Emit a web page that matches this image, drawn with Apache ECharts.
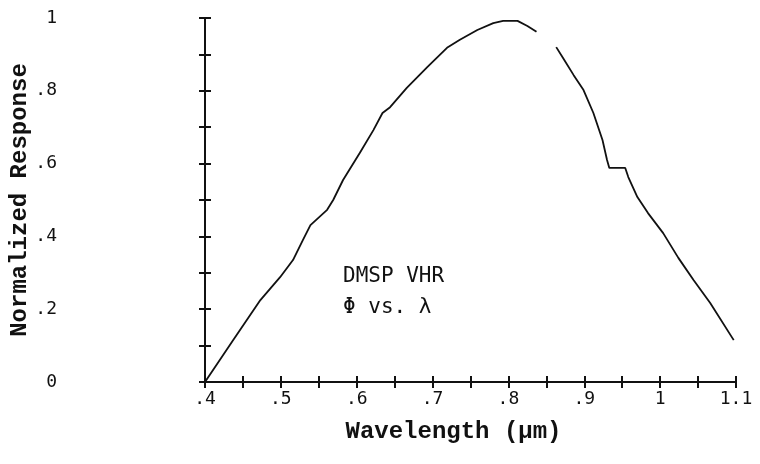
<!DOCTYPE html>
<html>
<head>
<meta charset="utf-8">
<script src="https://cdn.jsdelivr.net/npm/echarts@6/dist/echarts.min.js"></script>
<style>
  html, body { margin: 0; padding: 0; background: #fff; }
  #chart { width: 760px; height: 464px; }
</style>
</head>
<body>
<div id="chart"></div>
<script>
// wavelength (um) and normalized response
// '-' marks the short stretch where the printed curve is missing
var wavelength = [0.400, 0.437, 0.473, 0.499, 0.516, 0.529, 0.539, 0.561, 0.569, 0.582,
  0.604, 0.622, 0.634, 0.644, 0.666, 0.693, 0.719, 0.736, 0.759, 0.780,
  0.793, 0.812, 0.825, 0.837, 0.850, 0.863, 0.872, 0.886, 0.899, 0.912,
  0.924, 0.930, 0.933, 0.954, 0.958, 0.970, 0.984, 1.004, 1.024, 1.044,
  1.066, 1.097];
var response = [0.000, 0.115, 0.225, 0.288, 0.335, 0.390, 0.431, 0.473, 0.500, 0.555,
  0.629, 0.692, 0.739, 0.755, 0.808, 0.865, 0.918, 0.940, 0.967, 0.986,
  0.992, 0.992, 0.978, 0.962, '-', 0.920, 0.890, 0.843, 0.802, 0.739,
  0.665, 0.610, 0.588, 0.588, 0.563, 0.508, 0.464, 0.409, 0.341, 0.280,
  0.217, 0.115];

// tick labels (only every other tick is labelled)
var xTickLabels = ['.4', '.5', '.6', '.7', '.8', '.9', '1', '1.1'];
var yTickLabels = ['0', '.2', '.4', '.6', '.8', '1'];

var ink = '#111';
var mono = '"DejaVu Sans Mono", monospace';
var courier = '"Liberation Mono", "DejaVu Sans Mono", monospace';

var chart = echarts.init(document.getElementById('chart'));

var points = wavelength.map(function (w, i) { return [w, response[i]]; });

var option = {
  backgroundColor: '#fff',
  animation: false,
  title: {
    text: 'DMSP VHR\nΦ vs. λ',
    left: 338,
    top: 256,
    textStyle: { fontFamily: mono, fontSize: 21, fontWeight: 'normal', color: ink, lineHeight: 31 }
  },
  grid: { left: 205, right: 24, top: 18, bottom: 82, outerBoundsMode: 'none', containLabel: false },
  xAxis: [
    {
      type: 'value', min: 0.4, max: 1.1, interval: 0.05, position: 'bottom',
      axisLine: { lineStyle: { color: ink, width: 2 } },
      axisTick: { length: 6, lineStyle: { color: ink, width: 2 } },
      splitLine: { show: false },
      axisLabel: {
        margin: 8, fontSize: 18, fontFamily: mono, color: ink,
        showMinLabel: true, showMaxLabel: true,
        formatter: function (v) {
          var k = Math.round((v - 0.4) * 20);
          return k % 2 === 0 ? xTickLabels[k / 2] : '';
        }
      },
      name: 'Wavelength (µm)', nameLocation: 'middle', nameGap: 38,
      nameTextStyle: { fontFamily: courier, fontSize: 24, fontWeight: 'bold', color: ink, padding: [0, 34, 0, 0] }
    },
    {
      type: 'value', min: 0.4, max: 1.1, interval: 0.05, position: 'bottom',
      axisLine: { show: false },
      axisTick: { inside: true, length: 6, lineStyle: { color: ink, width: 2 } },
      axisLabel: { show: false },
      splitLine: { show: false }
    }
  ],
  yAxis: [
    {
      type: 'value', min: 0, max: 1, interval: 0.1, position: 'left',
      axisLine: { show: true, lineStyle: { color: ink, width: 2 } },
      axisTick: { show: true, length: 6, lineStyle: { color: ink, width: 2 } },
      splitLine: { show: false },
      axisLabel: {
        margin: 148, fontSize: 18, fontFamily: mono, color: ink,
        formatter: function (v) {
          var k = Math.round(v * 10);
          return k % 2 === 0 ? yTickLabels[k / 2] : '';
        }
      },
      name: 'Normalized Response', nameLocation: 'middle', nameGap: 173, nameRotate: 90,
      nameMoveOverlap: false,
      nameTextStyle: { fontFamily: courier, fontSize: 24, fontWeight: 'bold', color: ink }
    },
    {
      type: 'value', min: 0, max: 1, interval: 0.1, position: 'left',
      axisLine: { show: false },
      axisTick: { show: true, inside: true, length: 6, lineStyle: { color: ink, width: 2 } },
      axisLabel: { show: false },
      splitLine: { show: false }
    }
  ],
  series: [
    {
      type: 'line',
      data: points,
      showSymbol: false,
      connectNulls: false,
      lineStyle: { color: ink, width: 1.8 }
    }
  ]
};

chart.setOption(option);
</script>
</body>
</html>
